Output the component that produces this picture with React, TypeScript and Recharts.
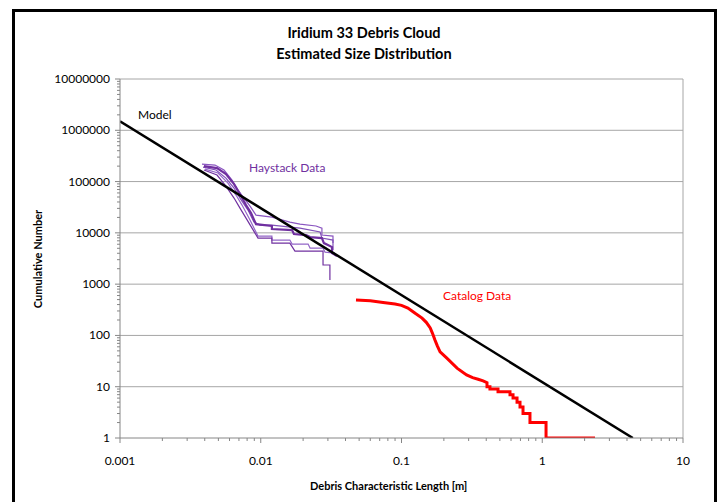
import { LineChart, Line, XAxis, YAxis, ReferenceLine } from 'recharts';

// tick labels (decades) and the minor-tick multipliers between them
const xMajor = [0.001, 0.01, 0.1, 1, 10];
const yMajor = [1, 10, 100, 1000, 10000, 100000, 1000000, 10000000];
const minorSteps = [2, 3, 4, 5, 6, 7, 8, 9];

// power-law model, drawn as a straight line on log-log axes
const model = [
  { x: 0.001, y: 1500000 },
  { x: 4.4, y: 1 }
];

// Haystack radar runs (cumulative number vs size)
const hay1 = [
  { x: 0.003825, y: 219000 }, { x: 0.00473, y: 210000 }, { x: 0.00548, y: 168000 },
  { x: 0.00625, y: 107000 }, { x: 0.00689, y: 68200 }, { x: 0.0076, y: 47700 },
  { x: 0.00839, y: 33300 }, { x: 0.00925, y: 22200 }, { x: 0.012, y: 20300 },
  { x: 0.0161, y: 16200 }, { x: 0.019, y: 14800 }, { x: 0.0247, y: 13600 },
  { x: 0.0272, y: 12400 }, { x: 0.0272, y: 9060 }, { x: 0.0326, y: 8660 },
  { x: 0.0326, y: 6320 }
];
const hay2 = [
  { x: 0.00395, y: 200000 }, { x: 0.00489, y: 183000 }, { x: 0.00566, y: 140000 },
  { x: 0.00646, y: 89400 }, { x: 0.00712, y: 57000 }, { x: 0.00786, y: 34800 },
  { x: 0.00853, y: 24300 }, { x: 0.00925, y: 14800 }, { x: 0.012, y: 13600 },
  { x: 0.012, y: 11900 }, { x: 0.0167, y: 11300 }, { x: 0.0172, y: 9480 },
  { x: 0.021, y: 9060 }, { x: 0.0224, y: 8280 }, { x: 0.0272, y: 7920 },
  { x: 0.0281, y: 6320 }, { x: 0.03, y: 5780 }, { x: 0.0321, y: 5280 },
  { x: 0.0321, y: 4040 }, { x: 0.0348, y: 3530 }
];
const hay3 = [
  { x: 0.00389, y: 192000 }, { x: 0.00481, y: 168000 }, { x: 0.00566, y: 117000 },
  { x: 0.00646, y: 74700 }, { x: 0.00712, y: 47700 }, { x: 0.00812, y: 27800 },
  { x: 0.00895, y: 16200 }, { x: 0.00988, y: 14200 }, { x: 0.012, y: 14200 },
  { x: 0.019, y: 12400 }, { x: 0.0264, y: 10400 }, { x: 0.0272, y: 7920 },
  { x: 0.0326, y: 7240 }, { x: 0.0326, y: 4620 }
];
const hay4 = [
  { x: 0.00402, y: 175000 }, { x: 0.00497, y: 147000 }, { x: 0.00585, y: 93500 },
  { x: 0.00667, y: 54600 }, { x: 0.00736, y: 34800 }, { x: 0.00839, y: 17800 },
  { x: 0.00956, y: 8660 }, { x: 0.012, y: 8660 }, { x: 0.012, y: 7240 },
  { x: 0.0161, y: 7240 }, { x: 0.0167, y: 6050 }, { x: 0.0217, y: 6050 },
  { x: 0.0224, y: 5050 }, { x: 0.0277, y: 5050 }, { x: 0.0286, y: 4220 },
  { x: 0.0337, y: 4040 }
];
const hay5 = [
  { x: 0.00395, y: 168000 }, { x: 0.00489, y: 134000 }, { x: 0.00566, y: 81700 },
  { x: 0.00646, y: 47700 }, { x: 0.00712, y: 30400 }, { x: 0.00786, y: 19400 },
  { x: 0.00867, y: 12400 }, { x: 0.00956, y: 7920 }, { x: 0.012, y: 7920 },
  { x: 0.012, y: 6320 }, { x: 0.0161, y: 6320 }, { x: 0.0175, y: 4420 },
  { x: 0.0277, y: 4420 }, { x: 0.0277, y: 2360 }, { x: 0.031, y: 2360 },
  { x: 0.031, y: 1200 }
];

// catalogued objects
const catalog = [
  { x: 0.0475, y: 490 }, { x: 0.06, y: 475 }, { x: 0.074, y: 440 }, { x: 0.09, y: 410 },
  { x: 0.1, y: 385 }, { x: 0.111, y: 342 }, { x: 0.125, y: 270 }, { x: 0.14, y: 218 },
  { x: 0.15, y: 180 }, { x: 0.16, y: 140 }, { x: 0.166, y: 110 }, { x: 0.173, y: 81 },
  { x: 0.18, y: 62 }, { x: 0.188, y: 48 }, { x: 0.21, y: 36 },
  { x: 0.248, y: 23 }, { x: 0.29, y: 17 }, { x: 0.32, y: 15 }, { x: 0.35, y: 14 },
  { x: 0.38, y: 13 }, { x: 0.405, y: 12 }, { x: 0.405, y: 10 }, { x: 0.425, y: 10 },
  { x: 0.425, y: 9 }, { x: 0.485, y: 9 }, { x: 0.485, y: 8 }, { x: 0.59, y: 8 },
  { x: 0.59, y: 7 }, { x: 0.62, y: 7 }, { x: 0.62, y: 6 }, { x: 0.662, y: 6 },
  { x: 0.662, y: 5 }, { x: 0.695, y: 5 }, { x: 0.695, y: 4 }, { x: 0.73, y: 4 },
  { x: 0.73, y: 3 }, { x: 0.818, y: 3 }, { x: 0.818, y: 2 }, { x: 1.064, y: 2 },
  { x: 1.064, y: 1 }, { x: 2.37, y: 1 }
];

const withMinors = (majors: number[]) => {
  const out: number[] = [];
  majors.forEach((m, i) => {
    out.push(m);
    if (i < majors.length - 1) minorSteps.forEach((s) => out.push(+(m * s).toPrecision(6)));
  });
  return out;
};
const xTicks = withMinors(xMajor);
const yTicks = withMinors(yMajor);
const isMajor = (v: number) => Math.abs(Math.log10(v) - Math.round(Math.log10(v))) < 1e-6;

const FONT = 'Lato, "Noto Sans", sans-serif';
const AXIS = '#868686';
const PURPLE = '#7030a0';

const XTick = (props: any) => {
  const { x, y, payload } = props;
  const major = isMajor(payload.value);
  return (
    <g>
      <line x1={x} x2={x} y1={y} y2={y + (major ? 5 : 3)} stroke={AXIS} />
      {major && (
        <text x={x} y={y + 27} textAnchor="middle" fontSize={12} fill="#000" fontFamily={FONT}>
          {String(payload.value)}
        </text>
      )}
    </g>
  );
};

const YTick = (props: any) => {
  const { x, y, payload } = props;
  const major = isMajor(payload.value);
  return (
    <g>
      <line x1={x} x2={x - (major ? 5 : 3)} y1={y} y2={y} stroke={AXIS} />
      {major && (
        <text x={x - 10} y={y + 4} textAnchor="end" fontSize={12} fill="#000" fontFamily={FONT}>
          {String(payload.value)}
        </text>
      )}
    </g>
  );
};

export default function App() {
  const label = (left: number, top: number, color: string, text: string, bold = false, size = 12) => (
    <div
      style={{
        position: 'absolute', left, top, color, fontFamily: FONT, fontSize: size,
        fontWeight: bold ? 700 : 400, whiteSpace: 'nowrap', lineHeight: 1
      }}
    >
      {text}
    </div>
  );

  return (
    <div style={{ position: 'absolute', left: 0, top: 0, width: 718, height: 502, background: '#fff', overflow: 'hidden' }}>
      <div style={{ position: 'absolute', left: 12, top: 9, width: 699, height: 520, border: '3px solid #000' }} />
      <div style={{ position: 'absolute', left: 0, top: 22, width: 728, textAlign: 'center', fontFamily: FONT, fontWeight: 700, fontSize: 14.5, lineHeight: '21px' }}>
        Iridium 33 Debris Cloud
        <br />
        Estimated Size Distribution
      </div>
      <div style={{ position: 'absolute', left: 0, top: 0 }}>
        <LineChart width={718} height={502} margin={{ top: 79, right: 35, left: 0, bottom: 0 }}>
          <XAxis
            dataKey="x"
            type="number"
            scale="log"
            domain={[0.001, 10]}
            ticks={xTicks}
            interval={0}
            tickSize={0}
            tickMargin={0}
            tickLine={false}
            tick={<XTick />}
            height={64}
            stroke={AXIS}
            allowDataOverflow
          />
          <YAxis
            type="number"
            scale="log"
            domain={[1, 10000000]}
            ticks={yTicks}
            interval={0}
            tickSize={0}
            tickMargin={0}
            tickLine={false}
            tick={<YTick />}
            width={120}
            stroke={AXIS}
            allowDataOverflow
          />
          {yMajor.slice(1).map((v) => (
            <ReferenceLine key={v} y={v} stroke="#a6a6a6" strokeWidth={1} />
          ))}
          <ReferenceLine x={10} stroke="#a6a6a6" strokeWidth={1} />
          <Line data={hay1} dataKey="y" stroke="#8a55c0" strokeWidth={1.2} dot={false} isAnimationActive={false} />
          <Line data={hay3} dataKey="y" stroke="#8050b8" strokeWidth={1.2} dot={false} isAnimationActive={false} />
          <Line data={hay4} dataKey="y" stroke="#9366c8" strokeWidth={1.2} dot={false} isAnimationActive={false} />
          <Line data={hay5} dataKey="y" stroke={PURPLE} strokeWidth={1.2} dot={false} isAnimationActive={false} />
          <Line data={hay2} dataKey="y" stroke={PURPLE} strokeWidth={2.2} dot={false} isAnimationActive={false} />
          <Line data={catalog} dataKey="y" stroke="#ff0000" strokeWidth={3} dot={false} isAnimationActive={false} />
          <Line data={model} dataKey="y" stroke="#000" strokeWidth={2.5} dot={false} isAnimationActive={false} />
        </LineChart>
      </div>
      {label(138, 109, '#000', 'Model')}
      {label(249, 162, PURPLE, 'Haystack Data')}
      {label(443, 290, '#ff0000', 'Catalog Data')}
      {label(310, 480, '#000', 'Debris Characteristic Length [m]', true, 11)}
      <div
        style={{
          position: 'absolute', left: 37, top: 259, transform: 'translate(-50%, -50%) rotate(-90deg)',
          fontFamily: FONT, fontSize: 11, fontWeight: 700, whiteSpace: 'nowrap'
        }}
      >
        Cumulative Number
      </div>
    </div>
  );
}
